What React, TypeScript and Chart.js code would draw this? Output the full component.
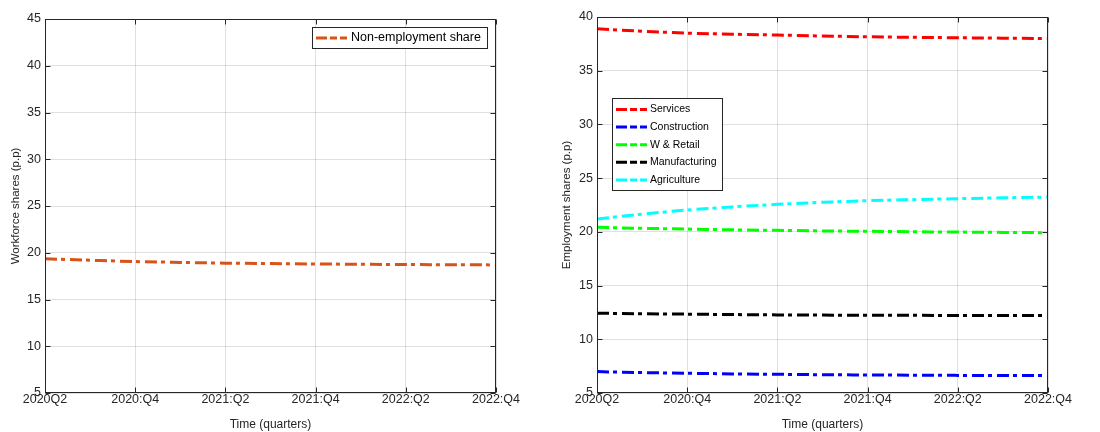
import React, { useEffect, useRef } from 'react';
import { Chart, registerables } from 'chart.js';

Chart.register(...registerables);

// ---------- data ----------
const quarters = ['2020Q2', '2020Q3', '2020Q4', '2021Q1', '2021Q2', '2021Q3', '2021Q4', '2022Q1', '2022Q2', '2022Q3', '2022Q4'];
const xTickLabels = ['2020Q2', '2020:Q4', '2021:Q2', '2021:Q4', '2022:Q2', '2022:Q4'];

const nonEmployment = [19.35, 19.2, 19.06, 18.97, 18.89, 18.84, 18.8, 18.77, 18.74, 18.72, 18.7];

const services = [38.9, 38.68, 38.5, 38.4, 38.32, 38.23, 38.16, 38.11, 38.07, 38.03, 38.0];
const construction = [6.99, 6.9, 6.84, 6.78, 6.74, 6.7, 6.68, 6.66, 6.64, 6.63, 6.62];
const wRetail = [20.42, 20.33, 20.26, 20.19, 20.14, 20.09, 20.05, 20.01, 19.98, 19.95, 19.92];
const manufacturing = [12.43, 12.38, 12.34, 12.3, 12.27, 12.25, 12.24, 12.23, 12.22, 12.21, 12.21];
const agriculture = [21.2, 21.65, 22.03, 22.32, 22.56, 22.75, 22.9, 23.0, 23.09, 23.17, 23.24];

const FONT = "'Liberation Sans', Arial, Helvetica, sans-serif";
const AXIS = '#262626';
const GRID = 'rgba(0,0,0,0.12)';
const DASH = [12, 4, 4, 5];

const toPoints = (vals: number[]) => vals.map((v, i) => ({ x: i, y: v }));

const framePlugin = {
  id: 'matlabFrame',
  afterDatasetsDraw(chart: any) {
    const { ctx, chartArea: a, scales } = chart;
    const x = scales.x;
    const y = scales.y;
    const L = Math.round(a.left) + 0.5;
    const R = Math.round(a.right) - 0.5;
    const T = Math.round(a.top) + 0.5;
    const B = Math.round(a.bottom) - 0.5;
    ctx.save();
    ctx.strokeStyle = AXIS;
    ctx.lineWidth = 1;
    ctx.strokeRect(L, T, R - L, B - T);
    ctx.beginPath();
    const tl = 5;
    x.ticks.forEach((t: any) => {
      const px = Math.round(x.getPixelForValue(t.value)) + 0.5;
      ctx.moveTo(px, B);
      ctx.lineTo(px, B - tl);
      ctx.moveTo(px, T);
      ctx.lineTo(px, T + tl);
    });
    y.ticks.forEach((t: any) => {
      const py = Math.round(y.getPixelForValue(t.value)) + 0.5;
      ctx.moveTo(L, py);
      ctx.lineTo(L + tl, py);
      ctx.moveTo(R, py);
      ctx.lineTo(R - tl, py);
    });
    ctx.stroke();
    ctx.restore();
  },
  afterDraw(chart: any) {
    const o = chart.options.plugins.boxLegend;
    if (!o) return;
    const { ctx, chartArea: a } = chart;
    const bx = o.anchor === 'right' ? a.right - o.dx - o.w : a.left + o.dx;
    const by = a.top + o.dy;
    ctx.save();
    ctx.fillStyle = '#ffffff';
    ctx.fillRect(bx, by, o.w, o.h);
    ctx.strokeStyle = AXIS;
    ctx.lineWidth = 1;
    ctx.strokeRect(Math.round(bx) + 0.5, Math.round(by) + 0.5, Math.round(o.w), Math.round(o.h));
    ctx.font = `${o.fontSize}px ${FONT}`;
    ctx.textBaseline = 'middle';
    ctx.textAlign = 'left';
    chart.data.datasets.forEach((ds: any, i: number) => {
      const cy = by + o.first + i * o.rowH;
      ctx.strokeStyle = ds.borderColor;
      ctx.lineWidth = 3;
      ctx.setLineDash([11, 3, 7, 3]);
      ctx.beginPath();
      ctx.moveTo(bx + 4, cy);
      ctx.lineTo(bx + 4 + o.sampleW, cy);
      ctx.stroke();
      ctx.setLineDash([]);
      ctx.fillStyle = '#000000';
      ctx.fillText(ds.label, bx + o.textX, cy);
    });
    ctx.restore();
  },
};

function makeConfig(opts: {
  datasets: any[];
  yMin: number;
  yMax: number;
  yTitle: string;
  yWidth: number;
  titlePad: number;
  padTop: number;
  padRight: number;
  legend: any;
}) {
  return {
    type: 'line' as const,
    data: {
      datasets: opts.datasets.map((d) => ({
        label: d.label,
        data: toPoints(d.values),
        borderColor: d.color,
        backgroundColor: d.color,
        borderWidth: 3,
        borderDash: DASH,
        borderCapStyle: 'butt',
        pointRadius: 0,
        fill: false,
        cubicInterpolationMode: 'monotone',
      })),
    },
    options: {
      responsive: true,
      maintainAspectRatio: false,
      animation: false,
      layout: { padding: { top: opts.padTop, right: opts.padRight, left: 0, bottom: 0 } },
      plugins: {
        legend: { display: false },
        tooltip: { enabled: false },
        boxLegend: opts.legend,
      },
      scales: {
        x: {
          type: 'linear',
          min: 0,
          max: quarters.length - 1,
          afterBuildTicks: (s: any) => {
            s.ticks = xTickLabels.map((_, i) => ({ value: i * 2 }));
          },
          afterFit: (s: any) => {
            s.height = 39;
          },
          ticks: {
            autoSkip: false,
            maxRotation: 0,
            padding: -1,
            color: AXIS,
            font: { size: 12.5, family: FONT },
            callback: (v: any) => xTickLabels[Math.round(v / 2)] ?? '',
          },
          grid: { color: GRID, drawTicks: false },
          border: { display: false },
          title: {
            display: true,
            text: 'Time (quarters)',
            color: AXIS,
            font: { size: 12, family: FONT },
            padding: { top: 0, bottom: 0 },
          },
        },
        y: {
          min: opts.yMin,
          max: opts.yMax,
          afterFit: (s: any) => {
            s.width = opts.yWidth;
          },
          ticks: {
            stepSize: 5,
            padding: 4,
            color: AXIS,
            font: { size: 12.5, family: FONT },
          },
          grid: { color: GRID, drawTicks: false },
          border: { display: false },
          title: {
            display: true,
            text: opts.yTitle,
            color: AXIS,
            font: { size: 11.5, family: FONT },
            padding: { top: opts.titlePad, bottom: 0 },
          },
        },
      },
    },
    plugins: [framePlugin],
  };
}

export default function App() {
  const leftRef = useRef<HTMLCanvasElement>(null);
  const rightRef = useRef<HTMLCanvasElement>(null);

  useEffect(() => {
    Chart.defaults.font.family = FONT;
    const left = new Chart(
      leftRef.current as HTMLCanvasElement,
      makeConfig({
        datasets: [{ label: 'Non-employment share', values: nonEmployment, color: '#D95319' }],
        yMin: 5,
        yMax: 45,
        yTitle: 'Workforce shares (p.p)',
        yWidth: 45,
        titlePad: 8.5,
        padTop: 19,
        padRight: 54,
        legend: { anchor: 'right', dx: 9, dy: 8, w: 175, h: 21, first: 11, rowH: 17.5, sampleW: 31, textX: 39, fontSize: 12.5 },
      }) as any
    );
    const right = new Chart(
      rightRef.current as HTMLCanvasElement,
      makeConfig({
        datasets: [
          { label: 'Services', values: services, color: '#FF0000' },
          { label: 'Construction', values: construction, color: '#0000FF' },
          { label: 'W & Retail', values: wRetail, color: '#00FF00' },
          { label: 'Manufacturing', values: manufacturing, color: '#000000' },
          { label: 'Agriculture', values: agriculture, color: '#00FFFF' },
        ],
        yMin: 5,
        yMax: 40,
        yTitle: 'Employment shares (p.p)',
        yWidth: 47,
        titlePad: 10,
        padTop: 17,
        padRight: 52,
        legend: { anchor: 'left', dx: 15, dy: 81, w: 110, h: 92, first: 11.5, rowH: 17.6, sampleW: 31, textX: 38, fontSize: 10.5 },
      }) as any
    );
    return () => {
      left.destroy();
      right.destroy();
    };
  }, []);

  return (
    <div style={{ position: 'fixed', left: 0, top: 0, width: 1100, height: 432, background: '#ffffff' }}>
      <div style={{ position: 'absolute', left: 0, top: 0, width: 550, height: 432 }}>
        <canvas ref={leftRef} />
      </div>
      <div style={{ position: 'absolute', left: 550, top: 0, width: 550, height: 432 }}>
        <canvas ref={rightRef} />
      </div>
    </div>
  );
}
